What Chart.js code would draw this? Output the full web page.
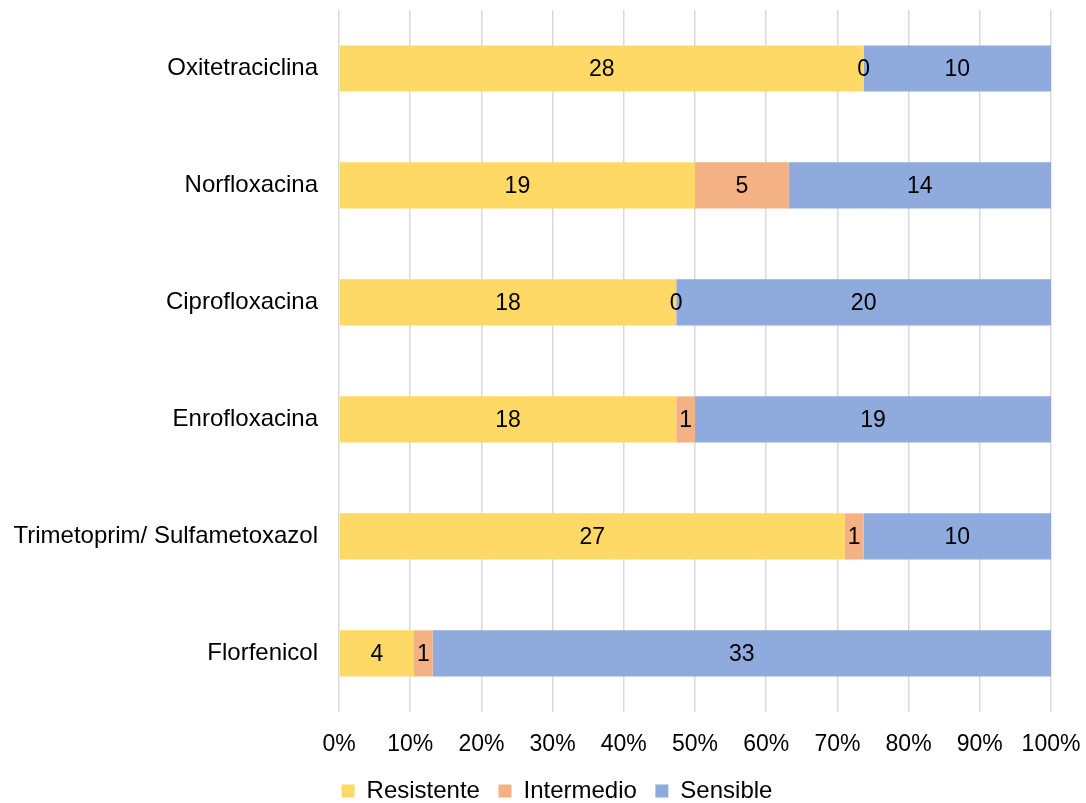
<!DOCTYPE html>
<html>
<head>
<meta charset="utf-8">
<script src="https://cdn.jsdelivr.net/npm/chart.js@4/dist/chart.umd.min.js"></script>
<style>
  html, body { margin: 0; padding: 0; background: #fff; }
  #wrap { width: 1086px; height: 803px; position: relative; }
</style>
</head>
<body>
<div id="wrap"><canvas id="c" width="1086" height="803"></canvas></div>
<script>
const categories = ["Oxitetraciclina", "Norfloxacina", "Ciprofloxacina", "Enrofloxacina", "Trimetoprim/ Sulfametoxazol", "Florfenicol"];
const resistente = [28, 19, 18, 18, 27, 4];
const intermedio = [0, 5, 0, 1, 1, 1];
const sensible = [10, 14, 20, 19, 10, 33];
const seriesNames = ["Resistente", "Intermedio", "Sensible"];
const seriesColors = ["#FFD966", "#F4B183", "#8FAADC"];
const xTicks = [0, 10, 20, 30, 40, 50, 60, 70, 80, 90, 100];

const counts = [resistente, intermedio, sensible];
const totals = categories.map((_, i) => counts.reduce((s, arr) => s + arr[i], 0));
const pct = arr => arr.map((v, i) => v / totals[i] * 100);

const FONT = "'Liberation Sans', Arial, sans-serif";

const labelPlugin = {
  id: 'segLabels',
  afterDatasetsDraw(chart) {
    const ctx = chart.ctx;
    ctx.save();
    ctx.font = "23px " + FONT;
    ctx.fillStyle = "#000";
    ctx.textAlign = "center";
    ctx.textBaseline = "middle";
    chart.data.datasets.forEach((ds, di) => {
      const meta = chart.getDatasetMeta(di);
      meta.data.forEach((el, i) => {
        const p = el.getProps(['x', 'y', 'base'], true);
        const cx = (p.x + p.base) / 2;
        ctx.fillText(String(counts[di][i]), cx, p.y + 1);
      });
    });
    ctx.restore();
  }
};

const legendNudge = {
  id: 'legendNudge',
  afterLayout(chart) {
    const l = chart.legend;
    if (l) { l.left += 14; l.right += 14; l.top -= 17; l.bottom -= 17; }
  }
};

new Chart(document.getElementById('c'), {
  type: 'bar',
  data: {
    labels: categories,
    datasets: seriesNames.map((n, k) => ({
      label: n,
      data: pct(counts[k]),
      backgroundColor: seriesColors[k],
      borderWidth: 0,
      barPercentage: 0.395,
      categoryPercentage: 1.0
    }))
  },
  options: {
    indexAxis: 'y',
    responsive: false,
    animation: false,
    devicePixelRatio: 1,
    layout: { padding: { left: 0, right: 0, top: 10, bottom: -27 } },
    plugins: {
      legend: {
        position: 'bottom',
        labels: {
          boxWidth: 13,
          boxHeight: 13,
          padding: 18.5,
          color: '#000',
          font: { family: FONT, size: 24 }
        }
      },
      tooltip: { enabled: false }
    },
    scales: {
      x: {
        stacked: true,
        min: 0,
        max: 100,
        afterBuildTicks(scale) { scale.ticks = xTicks.map(v => ({ value: v })); },
        afterFit(scale) { scale.paddingRight = 35; scale.paddingLeft = 0; },
        ticks: {
          callback: v => v + '%',
          color: '#000',
          padding: 19,
          maxRotation: 0,
          font: { family: FONT, size: 23 }
        },
        grid: { color: '#D9D9D9', lineWidth: 1.5, drawTicks: false },
        border: { display: false }
      },
      y: {
        stacked: true,
        afterFit(scale) { scale.width = 339; scale.paddingTop = 0; scale.paddingBottom = 0; },
        ticks: {
          color: '#000',
          padding: 21,
          font: { family: FONT, size: 24 }
        },
        grid: { display: false, drawTicks: false },
        border: { display: false }
      }
    }
  },
  plugins: [labelPlugin, legendNudge]
});
</script>
</body>
</html>
